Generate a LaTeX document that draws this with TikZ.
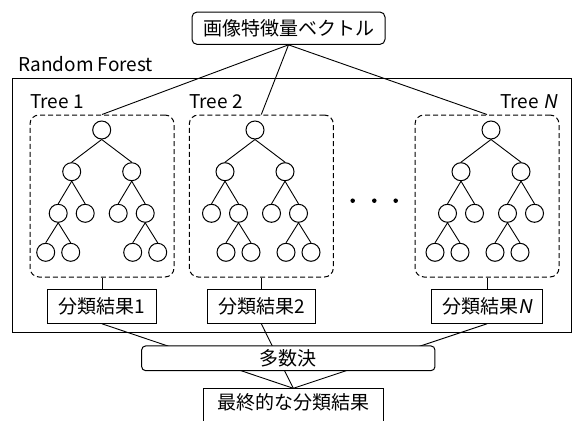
\documentclass[tikz,border=0pt]{standalone}
\usepackage{fontspec}
\setmainfont{Noto Sans CJK JP}[AutoFakeSlant=0.2]
\usetikzlibrary{positioning}
\tikzset{
    base/.style={font=\fontsize{19pt}{22pt}\selectfont, align=center},
    leaf/.style={circle, draw, line width=1pt, minimum size=18pt, inner sep=0pt},
    branch/.style={line width=0.9pt},
    link/.style={line width=0.9pt},
    dot/.style={circle, fill, inner sep=0pt, minimum size=4.5pt},
    treebox/.style={draw, line width=1pt, dash pattern=on 5pt off 3pt, rounded corners=9pt,
                    minimum width=144pt, minimum height=162pt},
    resbox/.style={base, draw, line width=1pt, inner xsep=11pt, inner ysep=0pt, minimum height=34pt},
    softbox/.style={base, draw, line width=1pt, fill=white, inner sep=0pt},
    frame/.style={draw, line width=1pt, minimum width=559pt, minimum height=254.3pt},
    caption/.style={base, inner sep=0pt},
    % binary tree, the two given inner nodes get two leaves each
    pics/dtree/.style 2 args={code={
        \node[leaf] (-r) at (0,0) {};
        \node[leaf] (-a) at (-30,41.7) {};
        \node[leaf] (-b) at (30,41.7) {};
        \node[leaf] (-a1) at (-43.5,83.3) {};
        \node[leaf] (-a2) at (-16.5,83.3) {};
        \node[leaf] (-b1) at (16.5,83.3) {};
        \node[leaf] (-b2) at (43.5,83.3) {};
        \foreach \c in {a,b} \draw[branch] (-r.south) -- (-\c.north);
        \foreach \c in {1,2} {
            \draw[branch] (-a.south) -- (-a\c.north);
            \draw[branch] (-b.south) -- (-b\c.north);
        }
        \foreach \p/\px in {#1,#2} {
            \node[leaf] (-\p-l) at (\px-12.5,122.3) {};
            \node[leaf] (-\p-r) at (\px+12.5,122.3) {};
            \draw[branch] (-\p.south) -- (-\p-l.north);
            \draw[branch] (-\p.south) -- (-\p-r.north);
        }
    }}
}

\begin{document}
\begin{tikzpicture}[x=1pt, y=-1pt]
  \useasboundingbox (0,0) rectangle (572,420);

  % input and the forest frame
  \node[softbox, rounded corners=5pt, minimum width=193pt, minimum height=32.3pt] (feat) at (288.5,28.2) {画像特徴量ベクトル};
  \node[frame] (rf) at (292.2,205.2) {};
  \node[caption, anchor=base west] (rflabel) at (18.3,71.7) {Random Forest};

  % the trees
  \node[treebox] (box1) at (102,196) {};
  \node[treebox] (box2) at (261.3,196) {};
  \node[treebox] (boxN) at (487,196) {};
  \node[caption, anchor=base west] (lab1) at (30,108.3) {Tree 1};
  \node[caption, anchor=base west] (lab2) at (189,108.3) {Tree 2};
  \node[caption, anchor=base east] (labN) at (557,108.3) {Tree \textit{N}};
  \pic (t1) at (101.7,130) {dtree={a1/-43.5}{b2/43.5}};
  \pic (t2) at (255,130) {dtree={a2/-16.5}{b2/43.5}};
  \pic (tN) at (491,130) {dtree={a1/-43.5}{b1/16.5}};
  \foreach \i/\dx in {1/352.7,2/374.3,3/395.7}
    \node[dot] (dot\i) at (\dx,200.7) {};

  % one result per tree
  \node[resbox, below=11.3pt of box1] (res1) {分類結果1};
  \node[resbox, below=11.3pt of box2] (res2) {分類結果2};
  \node[resbox, below=11.3pt of boxN] (resN) {分類結果\textit{N}};
  \node[resbox, minimum width=180pt, minimum height=0pt, text height=20.4pt, text depth=14pt,
        anchor=north] (final) at (293.3,388.3) {最終的な分類結果};

  % connections
  \foreach \i in {1,2,N} {
    \draw[link] (feat.south) -- (box\i.north);
    \draw[link] (box\i.south) -- (res\i.north);
    \draw[link] (res\i.south) -- (final.north);
  }

  % voting sits on top of the lines
  \node[softbox, rounded corners=4pt, minimum width=293.3pt, minimum height=24.7pt] (vote) at (288.3,358.3) {多数決};
\end{tikzpicture}
\end{document}
